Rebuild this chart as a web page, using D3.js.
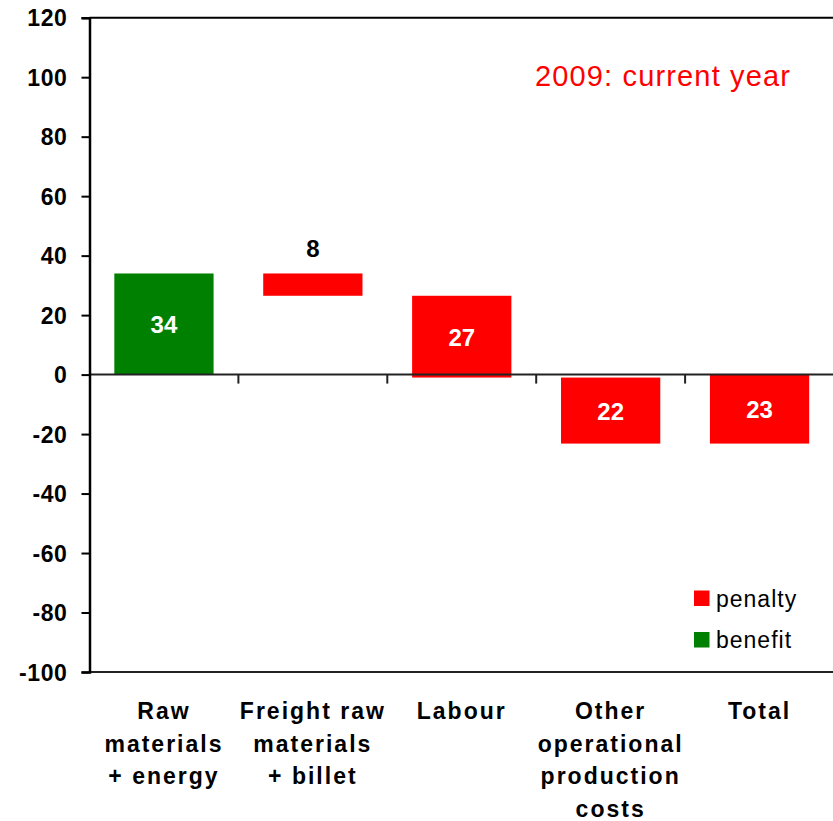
<!DOCTYPE html>
<html>
<head>
<meta charset="utf-8">
<script src="https://cdn.jsdelivr.net/npm/d3@7"></script>
<style>
  html, body { margin: 0; padding: 0; background: #fff; }
  svg { display: block; font-family: "Liberation Sans", Arial, sans-serif; }
</style>
</head>
<body>
<svg id="chart" width="833" height="821"></svg>
<script>
// ---- data ----
const categories = ["Raw materials + energy", "Freight raw materials + billet", "Labour", "Other operational production costs", "Total"];
const categoryLines = [
  ["Raw", "materials", "+ energy"],
  ["Freight raw", "materials", "+ billet"],
  ["Labour"],
  ["Other", "operational", "production", "costs"],
  ["Total"]
];
const barStart = [0, 34, 26.5, -1, 0];
const barEnd = [34, 26.5, -1, -23.2, -23.2];
const barLabels = ["34", "8", "27", "22", "23"];
const barTypes = ["benefit", "penalty", "penalty", "penalty", "penalty"];
const yTicks = [-100, -80, -60, -40, -20, 0, 20, 40, 60, 80, 100, 120];
const legendItems = ["penalty", "benefit"];
const titleText = "2009: current year";

(function () {
const colors = { penalty: "#ff0000", benefit: "#008000" };

const svg = d3.select("#chart");
const mLeft = 89.5, mRight = 834, mTop = 17.7, mBottom = 672;

const x = d3.scaleBand().domain(categories).range([mLeft, mRight]).paddingInner(1/3).paddingOuter(1/6);
const y = d3.scaleLinear().domain([-100, 120]).range([mBottom, mTop]);

// frame lines (top and bottom)
svg.append("line").attr("x1", mLeft).attr("x2", 833).attr("y1", y(120)).attr("y2", y(120))
  .attr("stroke", "#000").attr("stroke-width", 2);
svg.append("line").attr("x1", mLeft).attr("x2", 833).attr("y1", y(-100)).attr("y2", y(-100))
  .attr("stroke", "#222").attr("stroke-width", 2);

// bars
const data = categories.map((c, i) => ({ c, s: barStart[i], e: barEnd[i], label: barLabels[i], type: barTypes[i] }));
svg.append("g").selectAll("rect").data(data).join("rect")
  .attr("x", d => x(d.c))
  .attr("width", x.bandwidth())
  .attr("y", d => y(Math.max(d.s, d.e)))
  .attr("height", d => Math.abs(y(d.s) - y(d.e)))
  .attr("fill", d => colors[d.type]);

// zero line with category separators
svg.append("line").attr("x1", mLeft).attr("x2", 833).attr("y1", y(0)).attr("y2", y(0))
  .attr("stroke", "#222").attr("stroke-width", 2);
const step = x.step();
svg.append("g").selectAll("line").data(categories.slice(1)).join("line")
  .attr("x1", d => x(d) - (step - x.bandwidth()) / 2)
  .attr("x2", d => x(d) - (step - x.bandwidth()) / 2)
  .attr("y1", y(0)).attr("y2", y(0) + 9)
  .attr("stroke", "#222").attr("stroke-width", 2);

// y axis
const yAxis = d3.axisLeft(y).tickValues(yTicks).tickSize(8).tickPadding(14).tickFormat(d => String(d));
const gy = svg.append("g").attr("transform", `translate(${mLeft},0)`).call(yAxis);
gy.select(".domain").attr("stroke", "#000").attr("stroke-width", 2.5);
gy.selectAll(".tick line").attr("stroke", "#000").attr("stroke-width", 2);
gy.selectAll(".tick text")
  .attr("fill", "#000")
  .style("font-size", "23px").style("font-weight", "bold")
  .style("font-family", "'Liberation Sans', Arial, sans-serif")
  .style("letter-spacing", "0.6px")
  .attr("dy", "0.36em");

// bar labels
svg.append("g").selectAll("text").data(data).join("text")
  .attr("x", d => x(d.c) + x.bandwidth() / 2)
  .attr("y", d => {
    const h = Math.abs(y(d.s) - y(d.e));
    if (h < 30) return y(Math.max(d.s, d.e)) - 16;
    return (y(d.s) + y(d.e)) / 2 + 9;
  })
  .attr("text-anchor", "middle")
  .attr("fill", d => Math.abs(y(d.s) - y(d.e)) < 30 ? "#000" : "#fff")
  .style("font-size", "24px").style("font-weight", "bold")
  .text(d => d.label);

// x category labels
const gx = svg.append("g");
categories.forEach((c, i) => {
  const t = gx.append("text")
    .attr("x", x(c) + x.bandwidth() / 2)
    .attr("y", 719)
    .attr("text-anchor", "middle")
    .attr("fill", "#000")
    .style("font-size", "23px").style("font-weight", "bold")
    .style("letter-spacing", "2px");
  categoryLines[i].forEach((ln, j) => {
    t.append("tspan").attr("x", x(c) + x.bandwidth() / 2).attr("y", 719 + j * 32.5).text(ln);
  });
});

// title
svg.append("text").attr("x", 535).attr("y", 86)
  .attr("fill", "#ff0000")
  .style("font-size", "29px")
  .style("letter-spacing", "1.15px")
  .text(titleText);

// legend
const lg = svg.append("g");
legendItems.forEach((k, i) => {
  const yy = 590.5 + i * 41.5;
  lg.append("rect").attr("x", 694).attr("y", yy).attr("width", 15.5).attr("height", 15.5).attr("fill", colors[k]);
  lg.append("text").attr("x", 716).attr("y", yy + 16).attr("fill", "#000")
    .style("font-size", "23px").style("letter-spacing", "1px").text(k);
});
})();
</script>
</body>
</html>
